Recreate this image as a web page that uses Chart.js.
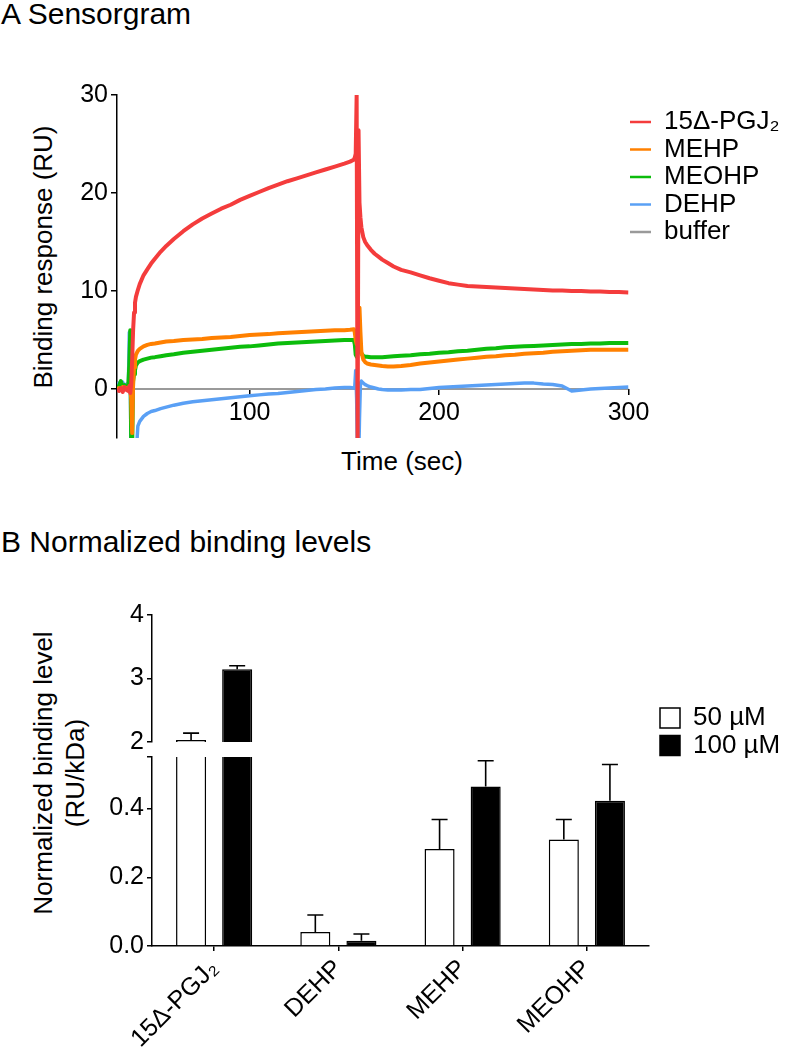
<!DOCTYPE html>
<html>
<head>
<meta charset="utf-8">
<script src="https://cdn.jsdelivr.net/npm/chart.js@4.4.1/dist/chart.umd.min.js"></script>
<style>
  html, body { margin: 0; padding: 0; background: #fff; }
  body { width: 786px; height: 1050px; position: relative; overflow: hidden;
         font-family: 'Liberation Sans', Arial, sans-serif; color: #000; }
  .t { position: absolute; white-space: nowrap; line-height: 1; }
  .rot { transform: translate(-50%, -50%) rotate(-90deg); text-align: center; }
  .ctr { transform: translate(-50%, -50%); }
  canvas { position: absolute; left: 0; }
</style>
</head>
<body>
<div class="t" style="left:1px; top:-1px; font-size:30px;">A Sensorgram</div>
<div class="t" style="left:1px; top:527px; font-size:30px;">B Normalized binding levels</div>
<div class="t rot" style="left:43px; top:257px; font-size:26px;">Binding response (RU)</div>
<div class="t ctr" style="left:402px; top:461px; font-size:26px;">Time (sec)</div>
<div class="t rot" style="left:59px; top:773px; font-size:26px; line-height:32px;">Normalized binding level<br>(RU/kDa)</div>

<canvas id="cA" width="786" height="490" style="top:0px;"></canvas>
<canvas id="cB" width="786" height="490" style="top:560px;"></canvas>

<script>
// ---------------- Panel A data (sensorgram) ----------------
const timeSec = [30, 31, 32, 33, 34, 35, 36, 36.5, 37, 37.5, 38, 38.5, 39, 39.5, 40, 41, 42, 44, 46, 48,
  50, 53, 56, 60, 65, 70, 75, 80, 85, 90, 95, 100, 105, 110, 115, 120, 125, 130, 135, 140,
  145, 150, 153, 155, 155.5, 156, 156.5, 157, 157.5, 158, 158.5, 159, 160, 161, 162, 164, 166, 168, 170, 173,
  176, 180, 185, 190, 195, 200, 205, 210, 215, 220, 225, 230, 235, 240, 245, 250, 255, 260, 265, 270,
  275, 280, 285, 290, 295, 300];

const pgj2 = [0.0, -0.2, 0.1, -0.3, 0.2, -0.1, -0.2, 0.3, -0.4, 0.5, 3.0, 6.0, 7.8, 8.8, 9.4, 10.1, 10.7, 11.6, 12.2, 12.8,
  13.3, 14.0, 14.6, 15.3, 16.1, 16.8, 17.4, 17.9, 18.4, 18.8, 19.3, 19.7, 20.1, 20.5, 20.85, 21.2, 21.5, 21.8, 22.1, 22.4,
  22.7, 23.0, 23.2, 23.4, 23.6, 24.0, 30.0, -7.0, 26.4, 19.0, 17.5, 16.5, 15.5, 15.0, 14.7, 14.2, 13.8, 13.5, 13.2, 12.85,
  12.5, 12.15, 11.9, 11.6, 11.3, 11.05, 10.8, 10.65, 10.5, 10.45, 10.4, 10.35, 10.3, 10.25, 10.2, 10.15, 10.1, 10.05, 10.05, 10.0,
  10.0, 9.95, 9.95, 9.9, 9.9, 9.85];

const mehp = [0.0, 0.1, -0.1, 0.2, 0.0, 0.1, 0.0, 0.2, 0.1, -1.0, -4.5, 0.5, 2.2, 3.0, 3.5, 3.9, 4.1, 4.35, 4.5, 4.6,
  4.65, 4.75, 4.85, 4.9, 5.0, 5.05, 5.1, 5.2, 5.25, 5.3, 5.4, 5.5, 5.55, 5.6, 5.7, 5.75, 5.8, 5.85, 5.9, 5.95,
  6.0, 6.0, 6.05, 6.1, 5.8, 5.0, 4.6, 5.2, 6.5, 8.3, 5.8, 3.8, 3.0, 2.75, 2.6, 2.5, 2.45, 2.4, 2.35, 2.3,
  2.3, 2.35, 2.45, 2.6, 2.7, 2.8, 2.9, 3.0, 3.1, 3.2, 3.3, 3.35, 3.45, 3.5, 3.6, 3.65, 3.7, 3.8, 3.85, 3.9,
  3.95, 4.0, 4.0, 4.0, 4.0, 4.0];

const meohp = [0.1, 0.3, 0.8, 0.2, 0.4, 0.1, 0.5, 2.5, 6.0, -6.0, -6.0, 0.8, 1.5, 1.9, 2.4, 2.7, 2.85, 3.0, 3.1, 3.2,
  3.25, 3.35, 3.45, 3.55, 3.7, 3.8, 3.9, 4.0, 4.1, 4.2, 4.3, 4.35, 4.45, 4.55, 4.65, 4.7, 4.75, 4.8, 4.85, 4.9,
  4.95, 5.0, 5.0, 5.0, 4.6, 3.5, 3.3, 4.4, 5.3, 4.6, 3.9, 3.6, 3.4, 3.3, 3.3, 3.25, 3.25, 3.25, 3.25, 3.3,
  3.35, 3.4, 3.45, 3.55, 3.6, 3.7, 3.75, 3.85, 3.9, 4.0, 4.1, 4.15, 4.25, 4.3, 4.35, 4.4, 4.45, 4.5, 4.55, 4.6,
  4.6, 4.65, 4.65, 4.7, 4.7, 4.7];

const dehp = [0.3, 0.6, 0.2, 0.7, 0.3, 0.5, 0.2, 5.8, 1.0, -8.0, -8.0, -8.0, -8.0, -8.0, -7.0, -3.8, -3.3, -2.8, -2.5, -2.3,
  -2.2, -2.0, -1.85, -1.65, -1.45, -1.3, -1.2, -1.1, -1.0, -0.9, -0.8, -0.7, -0.6, -0.5, -0.45, -0.35, -0.25, -0.15, -0.05, 0.0,
  0.1, 0.15, 0.15, 0.1, 0.2, 1.9, -1.0, -8.0, -8.0, -3.0, 0.6, 0.8, 0.6, 0.45, 0.35, 0.2, 0.1, 0.0, -0.05, -0.1,
  -0.1, -0.1, -0.05, -0.05, 0.05, 0.15, 0.2, 0.25, 0.3, 0.35, 0.4, 0.45, 0.5, 0.55, 0.6, 0.6, 0.5, 0.45, 0.3, -0.2,
  -0.1, 0.0, 0.05, 0.1, 0.15, 0.2];

const bufferTime = [30, 300];
const bufferValues = [0, 0];

const seriesNamesA = ['15Δ-PGJ₂', 'MEHP', 'MEOHP', 'DEHP', 'buffer'];
const xTicksA = [100, 200, 300];
const yTicksA = [0, 10, 20, 30];

// ---------------- Panel B data (normalized binding) ----------------
const compounds = ['15Δ-PGJ₂', 'DEHP', 'MEHP', 'MEOHP'];
const seriesNamesB = ['50 µM', '100 µM'];
const mean50 = [2.03, 0.041, 0.282, 0.31];
const err50 = [0.11, 0.049, 0.086, 0.058];
const mean100 = [3.145, 0.015, 0.464, 0.423];
const err100 = [0.055, 0.02, 0.075, 0.105];
const upperTicks = [2, 3, 4];
const lowerTicks = [0, 0.2, 0.4, 0.55];
const lowerTickLabels = ['0.0', '0.2', '0.4', ''];

// ---------------- shared style ----------------
Chart.defaults.font.family = "'Liberation Sans', Arial, sans-serif";
Chart.defaults.color = '#000';

const colorsA = ['#f43c3c', '#ff8000', '#0cbc0c', '#5aa0f5', '#9a9a9a'];
const widthsA = [4, 4, 4, 3.5, 2];

function pts(xs, ys) { return xs.map((x, i) => ({ x: x, y: ys[i] })); }

const seriesA = [pgj2, mehp, meohp, dehp];
const datasetsA = seriesA.map((vals, k) => ({
  label: seriesNamesA[k],
  data: pts(timeSec, vals),
  borderColor: colorsA[k],
  backgroundColor: colorsA[k],
  borderWidth: widthsA[k],
  pointRadius: 0,
  tension: 0,
  borderJoinStyle: 'round',
  fill: false
}));
datasetsA.push({
  label: seriesNamesA[4],
  data: pts(bufferTime, bufferValues),
  borderColor: colorsA[4],
  backgroundColor: colorsA[4],
  borderWidth: widthsA[4],
  pointRadius: 0,
  fill: false
});

new Chart(document.getElementById('cA'), {
  type: 'line',
  data: { datasets: datasetsA },
  options: {
    responsive: false,
    animation: false,
    devicePixelRatio: 1,
    layout: { autoPadding: false, padding: { top: 95, left: 0, right: 7.5, bottom: 52 } },
    scales: {
      x: {
        type: 'linear', min: 30, max: 300,
        position: { y: 0 },
        afterBuildTicks: s => { s.ticks = xTicksA.map(v => ({ value: v })); },
        border: { display: false },
        grid: { drawOnChartArea: false, drawTicks: true, tickLength: 6, color: '#000', lineWidth: 1.5 },
        ticks: { font: { size: 25 }, color: '#000', padding: 3, maxRotation: 0, autoSkip: false }
      },
      y: {
        type: 'linear', min: -5, max: 30,
        afterBuildTicks: s => { s.ticks = yTicksA.map(v => ({ value: v })); },
        afterFit: s => { s.width = 117; },
        border: { color: '#000', width: 1.5 },
        grid: { drawOnChartArea: false, drawTicks: true, tickLength: 6, color: '#000', lineWidth: 1.5 },
        ticks: { font: { size: 25 }, color: '#000', padding: 3, autoSkip: false }
      }
    },
    plugins: {
      tooltip: { enabled: false },
      legend: {
        position: 'right', align: 'start', maxWidth: 150,
        title: { display: true, text: ' ', font: { size: 1 }, padding: { top: 0, bottom: 11.3 } },
        labels: {
          usePointStyle: true, pointStyle: 'line', pointStyleWidth: 21,
          padding: 1.5, font: { size: 26 }, color: '#000',
          generateLabels: chart => Chart.defaults.plugins.legend.labels.generateLabels(chart)
            .map(l => Object.assign(l, { lineWidth: 2.5, pointStyle: 'line' }))
        }
      }
    }
  }
});

// ---------------- Panel B chart ----------------
const upperMin = upperTicks[0];
const barStyle = (fill) => ({
  backgroundColor: fill, borderColor: '#000', borderWidth: 1.5, borderSkipped: 'start',
  barPercentage: 0.652, categoryPercentage: 0.742
});

const datasetsB = [
  Object.assign({ label: seriesNamesB[0], data: mean50, errors: err50, yAxisID: 'yLow', stack: 'w' }, barStyle('#fff')),
  Object.assign({ label: seriesNamesB[1], data: mean100, errors: err100, yAxisID: 'yLow', stack: 'b' }, barStyle('#000')),
  Object.assign({ label: seriesNamesB[0] + ' ', data: mean50.map(v => v >= upperMin ? v : null), errors: err50, yAxisID: 'yHigh', stack: 'w' }, barStyle('#fff')),
  Object.assign({ label: seriesNamesB[1] + ' ', data: mean100.map(v => v >= upperMin ? v : null), errors: err100, yAxisID: 'yHigh', stack: 'b' }, barStyle('#000'))
];

const clipToScale = {
  id: 'clipToScale',
  beforeDatasetDraw(chart, args) {
    const ys = chart.scales[args.meta.yAxisID];
    const a = chart.chartArea;
    chart.ctx.save();
    chart.ctx.beginPath();
    chart.ctx.rect(a.left - 2, ys.top - 1, a.right - a.left + 4, ys.bottom - ys.top + 1);
    chart.ctx.clip();
  },
  afterDatasetDraw(chart) { chart.ctx.restore(); }
};

const errorBars = {
  id: 'errorBars',
  afterDatasetsDraw(chart) {
    const ctx = chart.ctx;
    const a = chart.chartArea;
    chart.data.datasets.forEach((ds, i) => {
      const meta = chart.getDatasetMeta(i);
      const ys = chart.scales[meta.yAxisID];
      ctx.save();
      ctx.beginPath();
      ctx.rect(a.left, ys.top - 2, a.right - a.left, ys.bottom - ys.top + 2);
      ctx.clip();
      ctx.strokeStyle = '#000';
      ctx.lineWidth = 1.6;
      meta.data.forEach((bar, j) => {
        const v = ds.data[j];
        if (v === null || v === undefined || v > ys.max) return;
        const yTop = ys.getPixelForValue(v + ds.errors[j]);
        ctx.beginPath();
        ctx.moveTo(bar.x, bar.y);
        ctx.lineTo(bar.x, yTop);
        ctx.moveTo(bar.x - 8, yTop);
        ctx.lineTo(bar.x + 8, yTop);
        ctx.stroke();
      });
      ctx.restore();
    });
  }
};

const axisStyle = {
  border: { color: '#000', width: 1.5 },
  grid: { drawOnChartArea: false, drawTicks: true, tickLength: 5, color: '#000', lineWidth: 1.5 }
};

new Chart(document.getElementById('cB'), {
  type: 'bar',
  data: { labels: compounds, datasets: datasetsB },
  plugins: [clipToScale, errorBars],
  options: {
    responsive: false,
    animation: false,
    devicePixelRatio: 1,
    layout: { autoPadding: false, padding: { top: 55, left: 0, right: 7.5, bottom: 0 } },
    scales: {
      x: {
        type: 'category',
        afterFit: s => { s.height = 104; },
        border: { color: '#000', width: 1.5 },
        grid: { offset: false, drawOnChartArea: false, drawTicks: true, tickLength: 5, color: '#000', lineWidth: 1.5 },
        ticks: { font: { size: 25 }, color: '#000', minRotation: 45, maxRotation: 45, padding: 3, autoSkip: false }
      },
      yLow: Object.assign({
        type: 'linear', position: 'left', stack: 'v', stackWeight: 189, weight: 1,
        min: 0, max: lowerTicks[lowerTicks.length - 1], stacked: false,
        afterBuildTicks: s => { s.ticks = lowerTicks.map(v => ({ value: v })); },
        afterFit: s => { s.width = 152; },
        ticks: { font: { size: 25 }, color: '#000', padding: 3, autoSkip: false,
                 callback: (v, i) => lowerTickLabels[i] }
      }, axisStyle),
      yGap: {
        type: 'linear', position: 'left', stack: 'v', stackWeight: 15, weight: 2,
        afterFit: s => { s.width = 152; },
        ticks: { display: false }, grid: { display: false }, border: { display: false }
      },
      yHigh: Object.assign({
        type: 'linear', position: 'left', stack: 'v', stackWeight: 127, weight: 3,
        min: upperTicks[0], max: upperTicks[upperTicks.length - 1], stacked: false,
        afterBuildTicks: s => { s.ticks = upperTicks.map(v => ({ value: v })); },
        afterFit: s => { s.width = 152; },
        ticks: { font: { size: 25 }, color: '#000', padding: 3, autoSkip: false }
      }, axisStyle),
      yPad: {
        type: 'linear', position: 'right',
        afterFit: s => { s.width = 9.5; },
        ticks: { display: false }, grid: { display: false }, border: { display: false }
      }
    },
    plugins: {
      tooltip: { enabled: false },
      legend: {
        position: 'right', align: 'start', maxWidth: 120,
        title: { display: true, text: ' ', font: { size: 1 }, padding: { top: 0, bottom: 87.3 } },
        labels: {
          boxWidth: 20, boxHeight: 20, padding: 1.5, font: { size: 26 }, color: '#000',
          filter: item => item.datasetIndex < 2
        }
      }
    }
  }
});
</script>
</body>
</html>
